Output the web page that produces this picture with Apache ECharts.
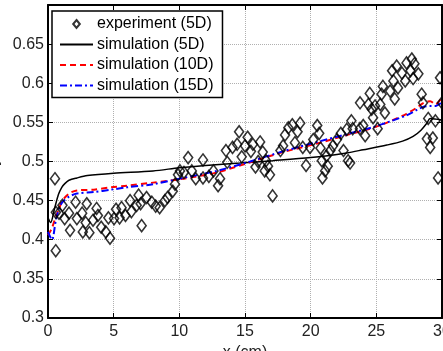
<!DOCTYPE html>
<html>
<head>
<meta charset="utf-8">
<script src="https://cdn.jsdelivr.net/npm/echarts@6/dist/echarts.min.js"></script>
<style>
  html, body { margin: 0; padding: 0; background: #fff; }
  #chart { width: 443px; height: 351px; }
</style>
</head>
<body>
<div id="chart"></div>
<script>
// experiment (5D)
var expX = [0.53, 0.59, 0.6, 0.84, 1.1, 1.27, 1.6, 1.68, 2.1, 2.2, 2.6, 2.65, 2.87, 2.95, 3.15, 3.43, 3.7, 3.8, 4.05, 4.4,
  4.6, 4.72, 5.03, 5.18, 5.45, 5.6, 5.9, 6.25, 6.35, 6.75, 6.9, 7.05, 7.13, 7.5, 7.9, 8.2, 8.5, 8.9, 9.1, 9.5,
  9.67, 9.9, 10.05, 10.35, 10.67, 10.95, 11.25, 11.8, 11.8, 12.25, 12.6, 12.95, 13.1, 13.55, 13.65, 14.05, 14.4, 14.55, 14.75, 15.0,
  15.2, 15.45, 15.6, 15.8, 16.0, 16.15, 16.35, 16.5, 16.6, 16.75, 16.9, 17.1, 17.7, 17.9, 18.05, 18.3, 18.6, 18.8, 19.0, 19.2,
  19.4, 19.65, 19.95, 20.2, 20.5, 20.65, 20.75, 20.85, 20.9, 21.1, 21.2, 21.3, 21.5, 21.7, 22.0, 22.3, 22.5, 22.75, 22.85, 23.0,
  23.1, 23.2, 23.75, 23.76, 24.0, 24.15, 24.4, 24.5, 24.65, 24.75, 24.9, 25.1, 25.3, 25.4, 25.5, 25.65, 26.05, 26.2, 26.3, 26.4,
  26.55, 26.65, 26.95, 27.2, 27.3, 27.6, 27.7, 27.8, 27.9, 28.2, 28.45, 28.55, 28.85, 28.95, 29.1, 29.3, 29.5, 29.7, 29.85, 30.0];
var expY = [0.478, 0.386, 0.435, 0.434, 0.444, 0.427, 0.434, 0.412, 0.448, 0.427, 0.434, 0.41, 0.422, 0.446, 0.409, 0.425, 0.44, 0.431, 0.416, 0.41,
  0.428, 0.402, 0.427, 0.439, 0.428, 0.441, 0.431, 0.45, 0.436, 0.444, 0.457, 0.446, 0.418, 0.454, 0.448, 0.443, 0.441, 0.45, 0.454, 0.462,
  0.471, 0.483, 0.488, 0.486, 0.505, 0.488, 0.478, 0.502, 0.479, 0.481, 0.488, 0.469, 0.478, 0.514, 0.499, 0.518, 0.522, 0.538, 0.506, 0.52,
  0.531, 0.513, 0.522, 0.493, 0.5, 0.525, 0.512, 0.488, 0.501, 0.494, 0.483, 0.456, 0.514, 0.52, 0.534, 0.543, 0.547, 0.524, 0.538, 0.549,
  0.518, 0.495, 0.518, 0.528, 0.546, 0.536, 0.517, 0.501, 0.479, 0.488, 0.507, 0.494, 0.514, 0.52, 0.528, 0.536, 0.514, 0.541, 0.501, 0.498,
  0.552, 0.542, 0.542, 0.575, 0.546, 0.533, 0.573, 0.587, 0.567, 0.556, 0.571, 0.542, 0.573, 0.586, 0.596, 0.562, 0.59, 0.616, 0.603, 0.58,
  0.622, 0.594, 0.613, 0.603, 0.626, 0.616, 0.631, 0.606, 0.625, 0.612, 0.586, 0.575, 0.529, 0.555, 0.518, 0.53, 0.552, 0.479, 0.607, 0.575];

// simulation (5D)
var sim5X = [0, 0.2, 0.5, 0.8, 1.05, 1.3, 1.6, 2.2, 3, 5, 8, 10, 12, 14.6, 17.1, 20, 22.75, 24, 25.8, 27, 27.8, 28.4, 28.85, 29.1, 30];
var sim5Y = [0.428, 0.422, 0.44, 0.458, 0.467, 0.472, 0.476, 0.479, 0.482, 0.485, 0.488, 0.492, 0.495, 0.498, 0.501, 0.505, 0.511, 0.515, 0.521, 0.526, 0.532, 0.54, 0.549, 0.555, 0.553];

// simulation (10D)
var sim10X = [0, 0.3, 0.6, 0.85, 1.1, 1.6, 2.2, 3.5, 4.8, 6, 8, 10.3, 12.85, 15.4, 17.9, 20.5, 23, 24.75, 26, 27.3, 28.1, 28.6, 29.1, 29.5, 30];
var sim10Y = [0.406, 0.415, 0.43, 0.44, 0.45, 0.459, 0.463, 0.464, 0.467, 0.469, 0.473, 0.478, 0.486, 0.499, 0.512, 0.523, 0.535, 0.543, 0.551, 0.561, 0.569, 0.575, 0.577, 0.573, 0.582];

// simulation (15D)
var sim15X = [0, 0.3, 0.6, 0.85, 1.1, 1.6, 2.2, 3.5, 4.8, 6, 8, 10.3, 12.85, 15.4, 17.9, 20.5, 23, 24.75, 26, 27.3, 28.1, 28.6, 29.1, 29.5, 30];
var sim15Y = [0.41, 0.4, 0.425, 0.44, 0.448, 0.455, 0.459, 0.461, 0.464, 0.467, 0.471, 0.479, 0.488, 0.5, 0.513, 0.525, 0.536, 0.544, 0.551, 0.559, 0.566, 0.57, 0.571, 0.571, 0.576];

var seriesNames = ['experiment (5D)', 'simulation (5D)', 'simulation (10D)', 'simulation (15D)'];

function zip(xs, ys) {
  return xs.map(function (x, i) { return [x, ys[i]]; });
}

var font = 'Liberation Sans, Arial, Helvetica, sans-serif';
var gridLine = { show: true, lineStyle: { color: '#b0b0b0', type: 'dotted', width: 1 } };
var tick = { show: true, inside: true, length: 5, lineStyle: { color: '#000', width: 1 } };
var frame = { show: true, onZero: false, lineStyle: { color: '#000', width: 2 } };
var noMarker = { opacity: 0 };

var chart = echarts.init(document.getElementById('chart'));
chart.setOption({
  animation: false,
  backgroundColor: '#fff',
  textStyle: { fontFamily: font },
  grid: { left: 48, right: 1, top: 5, bottom: 33, containLabel: false, outerBoundsMode: 'none' },
  legend: {
    data: [
      { name: seriesNames[0], icon: 'path://M5,0L10,6L5,12L0,6Z' },
      { name: seriesNames[1], itemStyle: noMarker },
      { name: seriesNames[2], itemStyle: noMarker },
      { name: seriesNames[3], itemStyle: noMarker }
    ],
    orient: 'vertical',
    left: 52,
    top: 11,
    padding: [5, 9, 4, 7],
    itemWidth: 33,
    itemHeight: 8,
    itemGap: 4.5,
    backgroundColor: '#fff',
    borderColor: '#000',
    borderWidth: 1.5,
    borderRadius: 0,
    textStyle: { fontSize: 16, color: '#000', fontFamily: font, padding: [0, 0, 0, -1] }
  },
  xAxis: [{
    type: 'value', min: 0, max: 30, interval: 5,
    name: 'x (cm)', nameLocation: 'middle', nameGap: 27,
    nameTextStyle: { fontSize: 16, color: '#222' },
    axisLine: frame, axisTick: tick, splitLine: gridLine,
    axisLabel: { fontSize: 16, color: '#222', margin: 6 }
  }, {
    type: 'value', min: 0, max: 30, interval: 5, position: 'top',
    axisLine: frame, axisTick: tick, splitLine: { show: false }, axisLabel: { show: false }
  }],
  yAxis: [{
    type: 'value', min: 0.3, max: 0.7, interval: 0.05,
    name: 'y', nameLocation: 'middle', nameGap: 46, nameRotate: 90,
    nameTextStyle: { fontSize: 16, color: '#222' },
    axisLine: frame, axisTick: tick, splitLine: gridLine,
    axisLabel: { fontSize: 16, color: '#222', margin: 4, showMaxLabel: false }
  }, {
    type: 'value', min: 0.3, max: 0.7, interval: 0.05, position: 'right',
    axisLine: frame, axisTick: tick, splitLine: { show: false }, axisLabel: { show: false }
  }],
  series: [{
    name: seriesNames[0],
    type: 'scatter',
    data: zip(expX, expY),
    symbol: 'diamond',
    symbolSize: [9, 12],
    itemStyle: { color: 'rgba(0,0,0,0)', borderColor: '#000', borderWidth: 1.6 },
    z: 3
  }, {
    name: seriesNames[1],
    type: 'line',
    data: zip(sim5X, sim5Y),
    symbol: 'none',
    smooth: 0.3,
    lineStyle: { color: '#000', width: 1.5, type: 'solid' },
    itemStyle: { color: '#000' }
  }, {
    name: seriesNames[2],
    type: 'line',
    data: zip(sim10X, sim10Y),
    symbol: 'none',
    smooth: 0.3,
    lineStyle: { color: '#ff0000', width: 2, type: [6, 4] },
    itemStyle: { color: '#ff0000' }
  }, {
    name: seriesNames[3],
    type: 'line',
    data: zip(sim15X, sim15Y),
    symbol: 'none',
    smooth: 0.3,
    lineStyle: { color: '#0000ff', width: 2, type: [7, 3, 2, 3] },
    itemStyle: { color: '#0000ff' }
  }]
});
</script>
</body>
</html>
